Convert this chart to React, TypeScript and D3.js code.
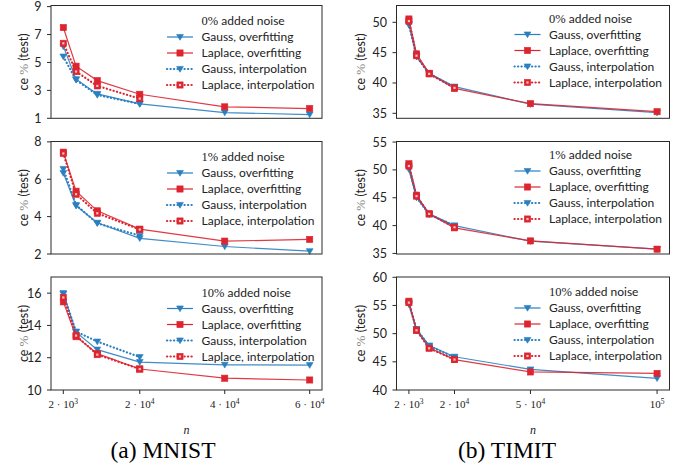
import React from "react";
import * as d3 from "d3";

// ---------- data ----------
const mnistN = [2000, 5000, 10000, 20000, 40000, 60000];
const timitN = [2000, 5000, 10000, 20000, 50000, 100000];
const interpN = [2000, 5000, 10000, 20000];

const noiseLevels = ["0", "1", "10"];

// MNIST
const mnistGaussOver0 = [6.15, 3.8, 2.75, 2.03, 1.41, 1.27];
const mnistLapOver0 = [7.5, 4.73, 3.7, 2.72, 1.82, 1.7];
const mnistGaussInt0 = [5.42, 3.75, 2.67, 2.03];
const mnistLapInt0 = [6.37, 4.35, 3.32, 2.41];

const mnistGaussOver1 = [6.33, 4.58, 3.67, 2.84, 2.4, 2.15];
const mnistLapOver1 = [7.45, 5.36, 4.31, 3.33, 2.69, 2.78];
const mnistGaussInt1 = [6.55, 4.62, 3.64, 2.98];
const mnistLapInt1 = [7.38, 5.2, 4.18, 3.31];

const mnistGaussOver10 = [16.0, 13.58, 12.5, 11.73, 11.56, 11.54];
const mnistLapOver10 = [15.46, 13.3, 12.25, 11.3, 10.73, 10.62];
const mnistGaussInt10 = [15.94, 13.62, 13.0, 12.04];
const mnistLapInt10 = [15.73, 13.37, 12.19, 11.3];

// TIMIT
const timitGaussOver0 = [49.56, 44.34, 41.6, 39.4, 36.5, 35.1];
const timitLapOver0 = [50.55, 44.8, 41.6, 39.1, 36.6, 35.27];
const timitGaussInt0 = [49.7, 44.4, 41.5, 39.3];
const timitLapInt0 = [50.2, 44.5, 41.5, 39.2];

const timitGaussOver1 = [50.1, 45.06, 42.1, 40.0, 37.2, 35.77];
const timitLapOver1 = [51.1, 45.47, 42.1, 39.6, 37.25, 35.77];
const timitGaussInt1 = [50.4, 45.1, 42.0, 40.0];
const timitLapInt1 = [50.7, 45.3, 42.1, 39.7];

const timitGaussOver10 = [55.2, 50.76, 47.9, 45.9, 43.65, 42.06];
const timitLapOver10 = [55.76, 50.6, 47.5, 45.4, 43.2, 42.94];
const timitGaussInt10 = [55.3, 50.8, 47.8, 45.8];
const timitLapInt10 = [55.5, 50.6, 47.4, 45.4];

const mnistYTicks = [[1, 3, 5, 7, 9], [2, 4, 6, 8], [10, 12, 14, 16]];
const timitYTicks = [[35, 40, 45, 50], [35, 40, 45, 50, 55], [40, 45, 50, 55, 60]];
const mnistYDomains: [number, number][] = [[1, 9.08], [2, 8.02], [10, 17.0]];
const timitYDomains: [number, number][] = [[34.18, 52.77], [34.9, 55.1], [40, 60.05]];

const mnistXTicks = [2000, 20000, 40000, 60000];
const mnistXTickLabels = [["2 · 10", "3"], ["2 · 10", "4"], ["4 · 10", "4"], ["6 · 10", "4"]];
const timitXTicks = [2000, 20000, 50000, 100000];
const timitXTickLabels = [["2 · 10", "3"], ["2 · 10", "4"], ["5 · 10", "4"], ["10", "5"]];

const seriesNames = ["Gauss, overfitting", "Laplace, overfitting", "Gauss, interpolation", "Laplace, interpolation"];
const captions = ["(a) MNIST", "(b) TIMIT"];

// ---------- styling / layout ----------
const BLUE = "#2a7fc0";
const RED = "#dd2530";
const SANS = "Lato, 'DejaVu Sans', sans-serif";
const SERIF = "'Liberation Serif', 'DejaVu Serif', serif";

const rows: [number, number][] = [[5.5, 118.3], [141.5, 254], [277, 390]];
const cols = [
  { x0: 51, x1: 322, ylab: 24, legDy: [15.5, 15.5, 15.5] },
  { x0: 396.5, x1: 669.5, ylab: 360.5, legDy: [13, 13.5, 15] },
];

type Series = { x: number[]; y: number[]; color: string; dotted: boolean; marker: "tri" | "sq" | "sqo" };

const DOT = "0.2 3.3";

function Marker({ kind, x, y, color }: { kind: string; x: number; y: number; color: string }) {
  if (kind === "tri") {
    const s = 3.4;
    return <path d={`M${x - s},${y - s * 0.75}L${x + s},${y - s * 0.75}L${x},${y + s * 0.95}Z`} fill={color} stroke={color} strokeWidth={0.6} />;
  }
  if (kind === "sq") {
    const s = 3.1;
    return <rect x={x - s} y={y - s} width={2 * s} height={2 * s} fill={color} stroke={color} strokeWidth={0.6} />;
  }
  const s = 3.1;
  return (
    <g>
      <rect x={x - s} y={y - s} width={2 * s} height={2 * s} fill={color} stroke={color} strokeWidth={0.6} />
      <rect x={x - 1.1} y={y - 1.1} width={2.2} height={2.2} fill="#f7c0c0" />
    </g>
  );
}

function Panel({ col, row, series, xDomain, yDomain, yTicks, xTicks, xTickLabels, noise }: any) {
  const c = cols[col];
  const [top, bottom] = rows[row];
  const xs = d3.scaleLinear().domain(xDomain).range([c.x0, c.x1]);
  const ys = d3.scaleLinear().domain(yDomain).range([bottom, top]);
  const line = d3
    .line<[number, number]>()
    .x((d) => xs(d[0]))
    .y((d) => ys(d[1]));
  const legTop = top + c.legDy[row];
  const tx = c.x1 - 120.5;
  return (
    <g>
      {series.map((s: Series, i: number) => {
        const pts = s.x.map((xv, k) => [xv, s.y[k]] as [number, number]);
        return (
          <g key={i}>
            <path
              d={line(pts) || ""}
              fill="none"
              stroke={s.color}
              strokeWidth={s.dotted ? 2.2 : 1.2}
              strokeDasharray={s.dotted ? DOT : undefined}
              strokeLinecap={s.dotted ? "round" : "butt"}
              opacity={s.dotted ? 1 : 0.9}
            />
            {pts.map((p, k) => (
              <Marker key={k} kind={s.marker} x={xs(p[0])} y={ys(p[1])} color={s.color} />
            ))}
          </g>
        );
      })}
      <rect x={c.x0} y={top} width={c.x1 - c.x0} height={bottom - top} fill="none" stroke="#2a2a2a" strokeWidth={1} />
      {yTicks.map((t: number) => (
        <g key={t}>
          <line x1={c.x0 - 4} x2={c.x0} y1={ys(t)} y2={ys(t)} stroke="#2a2a2a" strokeWidth={1} />
          <text x={c.x0 - 9.5} y={ys(t)} dy="0.36em" textAnchor="end" fontFamily={SANS} fontSize={12.5} fill="#222">
            {t}
          </text>
        </g>
      ))}
      {xTicks &&
        xTicks.map((t: number, i: number) => (
          <g key={t}>
            <line x1={xs(t)} x2={xs(t)} y1={bottom} y2={bottom + 4} stroke="#2a2a2a" strokeWidth={1} />
            <text x={xs(t)} y={bottom + 18} textAnchor="middle" fontFamily={SERIF} fontSize={11} fill="#222">
              {xTickLabels[i][0]}
              <tspan dy={-4.5} fontSize={7.5}>
                {xTickLabels[i][1]}
              </tspan>
            </text>
          </g>
        ))}
      <text
        transform={`translate(${c.ylab},${(top + bottom) / 2}) rotate(-90)`}
        textAnchor="middle"
        dy="0.35em"
        fontFamily={SANS}
        fontSize={12.5}
        fill="#222"
      >
        ce <tspan fontFamily={SERIF} fill="#888" fontSize={13}>%</tspan> (test)
      </text>
      <text x={tx} y={legTop} dy="0.35em" fontFamily={SANS} fontSize={12} fill="#222">
        <tspan fontFamily={SERIF} fontSize={12.5}>{noise}%</tspan> added noise
      </text>
      {series.map((s: Series, i: number) => {
        const ly = legTop + 16 * (i + 1);
        return (
          <g key={"l" + i}>
            <line
              x1={c.x1 - 155}
              x2={c.x1 - 129}
              y1={ly}
              y2={ly}
              stroke={s.color}
              strokeWidth={s.dotted ? 2.2 : 1.2}
              strokeDasharray={s.dotted ? DOT : undefined}
              strokeLinecap={s.dotted ? "round" : "butt"}
            />
            <Marker kind={s.marker} x={c.x1 - 142} y={ly} color={s.color} />
            <text x={tx} y={ly} dy="0.35em" fontFamily={SANS} fontSize={12} fill="#222">
              {seriesNames[i]}
            </text>
          </g>
        );
      })}
    </g>
  );
}

export default function App() {
  const mnistData = [
    [mnistGaussOver0, mnistLapOver0, mnistGaussInt0, mnistLapInt0],
    [mnistGaussOver1, mnistLapOver1, mnistGaussInt1, mnistLapInt1],
    [mnistGaussOver10, mnistLapOver10, mnistGaussInt10, mnistLapInt10],
  ];
  const timitData = [
    [timitGaussOver0, timitLapOver0, timitGaussInt0, timitLapInt0],
    [timitGaussOver1, timitLapOver1, timitGaussInt1, timitLapInt1],
    [timitGaussOver10, timitLapOver10, timitGaussInt10, timitLapInt10],
  ];
  const mk = (full: number[], d: number[][]): Series[] => [
    { x: full, y: d[0], color: BLUE, dotted: false, marker: "tri" },
    { x: full, y: d[1], color: RED, dotted: false, marker: "sq" },
    { x: interpN, y: d[2], color: BLUE, dotted: true, marker: "tri" },
    { x: interpN, y: d[3], color: RED, dotted: true, marker: "sqo" },
  ];
  const mPad = (d3.max(mnistN)! - d3.min(mnistN)!) * 0.05;
  const tPad = (d3.max(timitN)! - d3.min(timitN)!) * 0.05;
  const mX: [number, number] = [d3.min(mnistN)! - mPad, d3.max(mnistN)! + mPad];
  const tX: [number, number] = [d3.min(timitN)! - tPad, d3.max(timitN)! + tPad];

  return (
    <svg width={673} height={467} style={{ display: "block", position: "absolute", left: 0, top: 0, background: "#fff" }}>
      <rect width={673} height={467} fill="#fff" />
      {[0, 1, 2].map((r) => (
        <Panel
          key={"m" + r}
          col={0}
          row={r}
          series={mk(mnistN, mnistData[r])}
          xDomain={mX}
          yDomain={mnistYDomains[r]}
          yTicks={mnistYTicks[r]}
          xTicks={r === 2 ? mnistXTicks : null}
          xTickLabels={mnistXTickLabels}
          noise={noiseLevels[r]}
        />
      ))}
      {[0, 1, 2].map((r) => (
        <Panel
          key={"t" + r}
          col={1}
          row={r}
          series={mk(timitN, timitData[r])}
          xDomain={tX}
          yDomain={timitYDomains[r]}
          yTicks={timitYTicks[r]}
          xTicks={r === 2 ? timitXTicks : null}
          xTickLabels={timitXTickLabels}
          noise={noiseLevels[r]}
        />
      ))}
      <text x={(cols[0].x0 + cols[0].x1) / 2} y={434} textAnchor="middle" fontFamily={SERIF} fontStyle="italic" fontSize={12} fill="#222">
        n
      </text>
      <text x={(cols[1].x0 + cols[1].x1) / 2} y={434} textAnchor="middle" fontFamily={SERIF} fontStyle="italic" fontSize={12} fill="#222">
        n
      </text>
      <text x={163} y={458} textAnchor="middle" fontFamily="'Liberation Serif', serif" fontSize={23.5} fill="#000">
        {captions[0]}
      </text>
      <text x={507} y={458} textAnchor="middle" fontFamily="'Liberation Serif', serif" fontSize={23.5} fill="#000">
        {captions[1]}
      </text>
    </svg>
  );
}
